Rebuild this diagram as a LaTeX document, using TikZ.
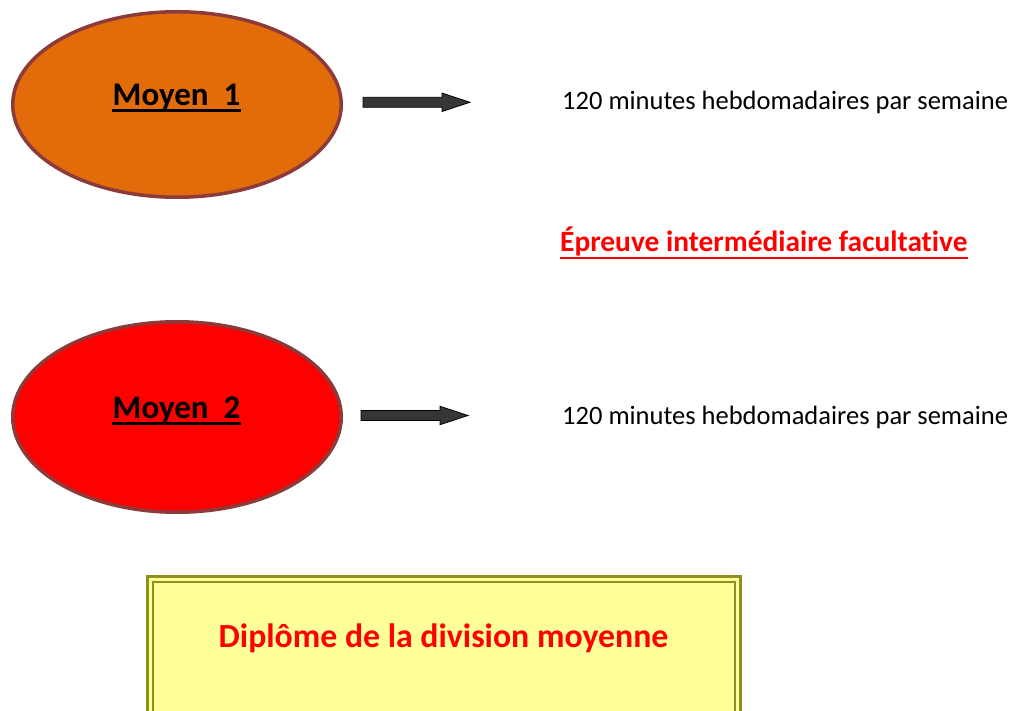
\documentclass[tikz,border=0pt]{standalone}
\usepackage{fontspec}
\setmainfont{Carlito}[Ligatures={NoCommon}]
\usetikzlibrary{shapes.geometric}
\definecolor{orangeA}{HTML}{E36C0A}
\definecolor{ellborder}{HTML}{8C3A3A}
\definecolor{olivebox}{HTML}{8F8F1F}
\definecolor{boxfill}{HTML}{FFFF99}
\definecolor{arrowfill}{HTML}{363636}
\begin{document}
\begin{tikzpicture}[x=1pt,y=-1pt,
  ellip/.style={ellipse, draw=ellborder, line width=3.5pt, minimum width=328.5pt, minimum height=185.5pt, inner sep=0pt},
  moyen/.style={anchor=base, inner sep=0pt, font=\fontsize{33}{36}\selectfont\bfseries},
  info/.style={anchor=base west, inner sep=0pt, font=\fontsize{26.5}{30}\selectfont},
  arrowshape/.style={fill=arrowfill, draw=black, line width=0.8pt, line join=miter},
  uline/.style={line width=2.5pt}]
\useasboundingbox (0,0) rectangle (1012,711);
% ellipses
\node[ellip, fill=orangeA] (e1) at (177,104.5) {};
\node[ellip, fill=red, minimum height=190.5pt] (e2) at (177,417) {};
\node[moyen] (m1) at (176.5,105.5) {Moyen\ \ 1};
\node[moyen] (m2) at (176.5,418.5) {Moyen\ \ 2};
\draw[uline] ([yshift=-5pt]m1.base west) -- ([yshift=-5pt]m1.base east);
\draw[uline] ([yshift=-5pt]m2.base west) -- ([yshift=-5pt]m2.base east);
% arrows
\draw[arrowshape, shift={(363,102.3)}] (0,-5) -- (79,-5) -- (79,-9.2) -- (107,0) -- (79,9.2) -- (79,5) -- (0,5) -- cycle;
\draw[arrowshape, shift={(361,415.5)}] (0,-5) -- (79,-5) -- (79,-9.2) -- (107,0) -- (79,9.2) -- (79,5) -- (0,5) -- cycle;
% info texts
\node[info] (i1) at (562,110) {120 minutes hebdomadaires par semaine};
\node[info] (i2) at (562,424) {120 minutes hebdomadaires par semaine};
\node[info, text=red, font=\fontsize{29.4}{32}\selectfont\bfseries] (ep) at (560,252) {Épreuve intermédiaire facultative};
\draw[uline, red, line width=2.4pt] ([yshift=-6pt]ep.base west) -- ([yshift=-6pt]ep.base east);
% box
\fill[boxfill] (147.5,576.5) rectangle (740,725);
\draw[olivebox, line width=3pt] (147.5,576.5) rectangle (740,725);
\draw[olivebox, line width=2pt] (152.5,581.5) rectangle (735,725);
\node[anchor=base, inner sep=0pt, text=red, font=\fontsize{33.8}{36}\selectfont\bfseries] (dip) at (443.5,647) {Diplôme de la division moyenne};
\end{tikzpicture}
\end{document}
